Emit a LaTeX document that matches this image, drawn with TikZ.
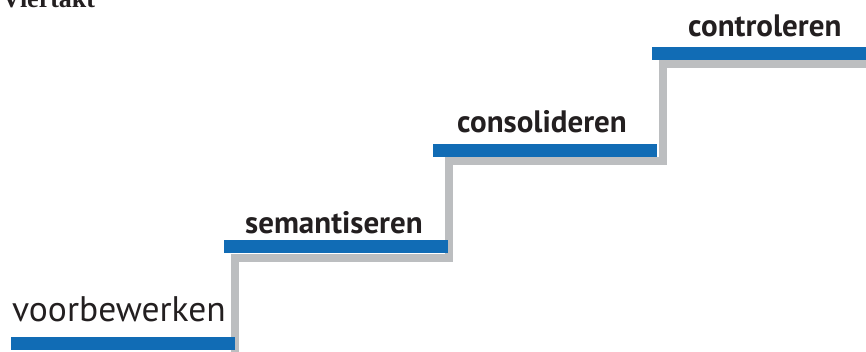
\documentclass[tikz,border=0pt]{standalone}
\usepackage{fontspec}
\setmainfont{PT Sans}
\newfontfamily\titlefont{Liberation Serif}
\usepackage{tikz}
\definecolor{stepblue}{RGB}{17,108,181}
\definecolor{stepgrey}{RGB}{188,190,192}
\definecolor{stepink}{RGB}{35,31,32}

\begin{document}
\begin{tikzpicture}[x=1pt, y=-1pt]
	\tikzstyle{bar} = [rectangle, minimum width=224pt, minimum height=13pt, 
	inner sep=0pt, fill=stepblue]
	\tikzstyle{stair} = [line width=8.5pt, draw=stepgrey, miter limit=10]
	\tikzstyle{label} = [anchor=base west, inner sep=0pt, text=stepink, 
	font=\fontsize{31}{36}\selectfont\bfseries]
	\useasboundingbox (0,0) rectangle (866,351);
	\node (title) [anchor=base west, inner sep=0pt, text=stepink, 
	font=\titlefont\fontsize{26}{30}\selectfont\bfseries] at (2,7) {Viertakt};
	\draw [stair] (235,352) |- (449,258) |- (663,161) |- (870,64);
	\node (stepOne) [bar] at (123,343.5) {};
	\node (stepTwo) [bar] at (336,246.5) {};
	\node (stepThree) [bar] at (545,150) {};
	\node (stepFour) [bar] at (764,53.5) {};
	\node (prepare) [anchor=base west, inner sep=0pt, text=stepink, 
	font=\fontsize{35.5}{40}\selectfont] at (12,321) {voorbewerken};
	\node (semantic) [label] at (245,233) {semantiseren};
	\node (consolidate) [label] at (457,132) {consolideren};
	\node (control) [label] at (688,36) {controleren};
\end{tikzpicture}
\end{document}
